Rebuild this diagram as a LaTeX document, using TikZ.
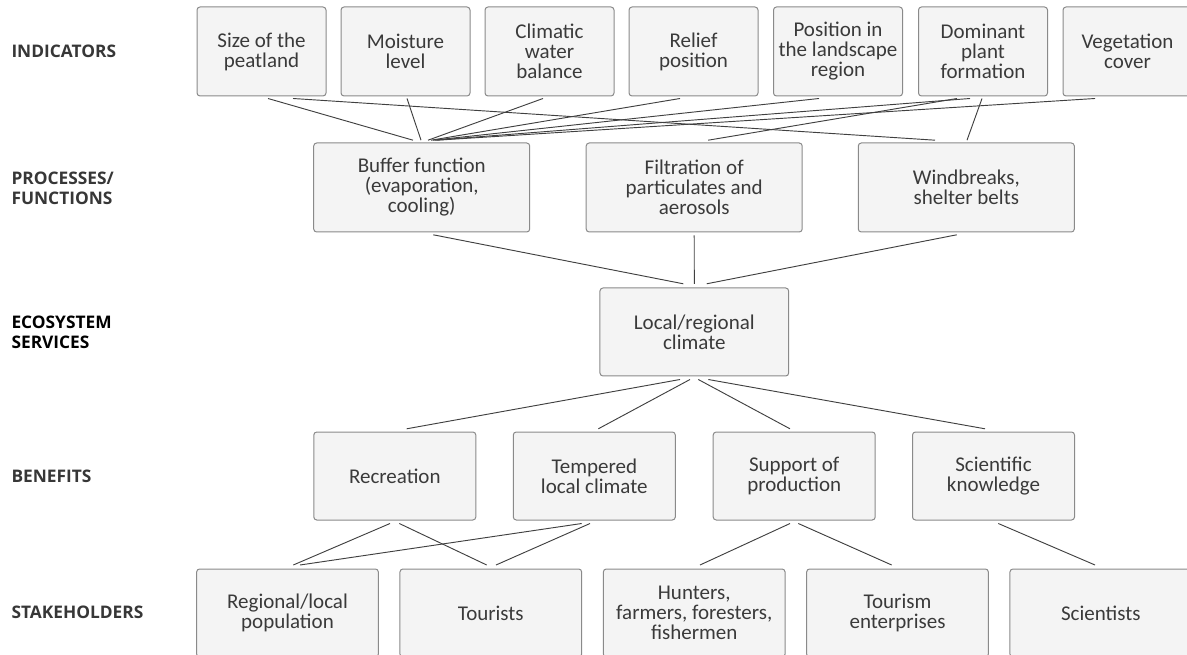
\documentclass[tikz,border=0pt]{standalone}
\usepackage{fontspec}
\setmainfont{Carlito}
\newfontfamily\labelfont{Open Sans}
\usetikzlibrary{calc}

\definecolor{boxfill}{RGB}{244,244,244}
\definecolor{boxline}{RGB}{138,138,138}
\definecolor{boxtext}{RGB}{58,58,58}
\definecolor{linkcol}{RGB}{64,64,64}
\definecolor{rowtext}{RGB}{55,55,55}

\tikzset{every picture/.style={line width=0.75pt}}
\tikzset{
  box/.style={draw=boxline, fill=boxfill, rounded corners=2.25pt, line width=0.75pt,
    align=center, inner sep=0pt, text=boxtext,
    font=\fontsize{15.75pt}{15pt}\selectfont},
  indbox/.style={box, minimum width=96.75pt, minimum height=66.75pt},
  procbox/.style={box, minimum width=162pt, minimum height=66.75pt},
  servbox/.style={box, minimum width=141.5pt, minimum height=66pt},
  benbox/.style={box, minimum width=121.5pt, minimum height=66pt},
  holdbox/.style={box, minimum width=136.3pt, minimum height=66pt},
  rowlabel/.style={anchor=west, align=left, inner sep=0pt, text=rowtext,
    font=\labelfont\bfseries\fontsize{13pt}{15pt}\selectfont},
  link/.style={draw=linkcol, line width=0.7pt},
}

\begin{document}
\begin{tikzpicture}[x=0.75pt,y=0.75pt,yscale=-1,xscale=1]
%set diagram area: 1187 x 655
\useasboundingbox (0,0) rectangle (1187,655);

% Row labels
\node [rowlabel] (lindic) at (11,51.5) {INDICATORS};
\node [rowlabel] (lproc) at (11,188) {PROCESSES/\\FUNCTIONS};
\node [rowlabel, text=black] (leco) at (11,332) {ECOSYSTEM\\SERVICES};
\node [rowlabel] (lbenef) at (11,476) {BENEFITS};
\node [rowlabel] (lstake) at (11,612) {STAKEHOLDERS};

%Shape: Rectangle -- indicators
\node [indbox] (size) at (261.5,51.5) {Size of the\\peatland};
\node [indbox] (moist) at (405.5,51.5) {Moisture\\level};
\node [indbox] (water) at (549.5,51.5) {Climatic\\water\\balance};
\node [indbox] (relief) at (693.5,51.5) {Relief\\position};
\node [indbox] (posit) at (838,51.5) {Position in\\the landscape\\region};
\node [indbox] (plant) at (983,51.5) {Dominant\\plant\\formation};
\node [indbox] (veget) at (1127.5,51.5) {Vegetation\\cover};

%Shape: Rectangle -- processes/functions
\node [procbox] (buffer) at (421.7,187.5) {Buffer function\\(evaporation,\\cooling)};
\node [procbox] (filter) at (694.2,187.5) {Filtration of\\particulates and\\aerosols};
\node [procbox] (wind) at (966.3,187.5) {Windbreaks,\\shelter belts};

%Shape: Rectangle -- ecosystem service
\node [servbox] (clim) at (694.3,332) {Local/regional\\climate};

%Shape: Rectangle -- benefits
\node [benbox] (recre) at (394.8,476) {Recreation};
\node [benbox] (temper) at (594.3,476) {Tempered\\local climate};
\node [benbox] (support) at (794.2,476) {Support of\\production};
\node [benbox] (know) at (993.5,476) {Scientific\\knowledge};

%Shape: Rectangle -- stakeholders
\node [holdbox] (popul) at (287.5,613) {Regional/local\\population};
\node [holdbox] (tourist) at (490.8,613) {Tourists};
\node [holdbox] (hunter) at (694.2,613) {Hunters,\\farmers, foresters,\\fishermen};
\node [holdbox] (enterp) at (897.5,613) {Tourism\\enterprises};
\node [holdbox] (scient) at (1100.8,613) {Scientists};

%Straight Lines -- indicators to processes
\draw [link] ($(size.south)+(6.5,2)$) -- ($(buffer.north)+(-8.7,-2.3)$);
\draw [link] ($(moist.south)+(1.5,2)$) -- ($(buffer.north)+(-0.7,-2.3)$);
\draw [link] ($(water.south)+(-6.5,2)$) -- ($(buffer.north)+(6.3,-2.3)$);
\draw [link] ($(relief.south)+(-13.5,2)$) -- ($(buffer.north)+(9.3,-2.3)$);
\draw [link] ($(posit.south)+(-19,2)$) -- ($(buffer.north)+(11.3,-2.3)$);
\draw [link] ($(plant.south)+(-13,2)$) -- ($(buffer.north)+(13.3,-2.3)$);
\draw [link] ($(veget.south)+(-32.5,2)$) -- ($(buffer.north)+(15.3,-2.3)$);
\draw [link] ($(size.south)+(31.5,2)$) -- ($(wind.north)+(-31.3,-2.3)$);
\draw [link] ($(plant.south)+(-26,2)$) -- ($(filter.north)+(14,-2.3)$);
\draw [link] ($(plant.south)+(-1,2)$) -- ($(wind.north)+(0.7,-2.3)$);

%Straight Lines -- processes to service
\draw [link] ($(buffer.south)+(11.6,2.3)$) -- ($(clim.north)+(-11,-3.7)$);
\draw [link] ($(filter.south)+(0,3)$) -- ($(clim.north)+(0,-3.7)$);
\draw [link] ($(wind.south)+(-9.6,2.3)$) -- ($(clim.north)+(12.4,-3.7)$);

%Straight Lines -- service to benefits
\draw [link] ($(clim.south)+(-14.3,3)$) -- ($(recre.north)+(11.9,-2.7)$);
\draw [link] ($(clim.south)+(-4.3,3)$) -- ($(temper.north)+(4,-2.7)$);
\draw [link] ($(clim.south)+(4,3)$) -- ($(support.north)+(-4.2,-2.7)$);
\draw [link] ($(clim.south)+(14,3)$) -- ($(know.north)+(-8.5,-2.7)$);

%Straight Lines -- benefits to stakeholders
\draw [link] ($(recre.south)+(-4.8,3)$) -- ($(popul.north)+(5.8,-3.5)$);
\draw [link] ($(recre.south)+(4.5,3)$) -- ($(tourist.north)+(-4.1,-3.5)$);
\draw [link] ($(temper.south)+(-12.6,3)$) -- ($(popul.north)+(12.5,-3.5)$);
\draw [link] ($(temper.south)+(-4.3,3)$) -- ($(tourist.north)+(5.2,-3.5)$);
\draw [link] ($(support.south)+(-4.2,3)$) -- ($(hunter.north)+(5.8,-3.5)$);
\draw [link] ($(support.south)+(4.1,3)$) -- ($(enterp.north)+(-5.8,-3.5)$);
\draw [link] ($(know.south)+(4.8,3)$) -- ($(scient.north)+(-5.8,-3.5)$);

\end{tikzpicture}
\end{document}
